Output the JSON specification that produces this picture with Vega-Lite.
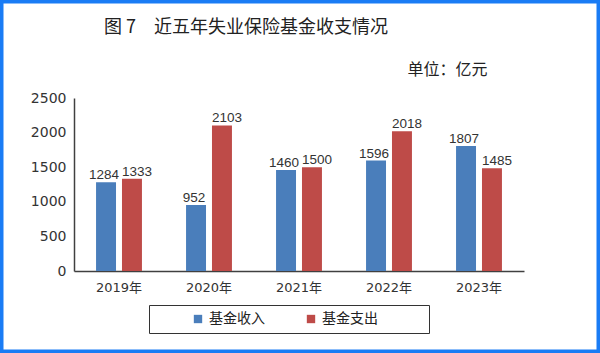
{
  "$schema": "https://vega.github.io/schema/vega-lite/v6.json",
  "width": 600,
  "height": 353,
  "autosize": "none",
  "padding": 0,
  "background": "white",
  "config": {
    "view": {"stroke": "#1a7cf5", "strokeWidth": 7},
    "font": "DejaVu Sans"
  },
  "title": {
    "text": "图 7　近五年失业保险基金收支情况",
    "orient": "top",
    "anchor": "middle",
    "offset": -37,
    "dx": -54,
    "fontSize": 18,
    "font": "Noto Sans CJK SC",
    "fontWeight": "normal",
    "color": "#222222"
  },
  "data": {
    "values": [
      {"year": "2019年", "type": "基金收入", "value": 1284},
      {"year": "2019年", "type": "基金支出", "value": 1333},
      {"year": "2020年", "type": "基金收入", "value": 952},
      {"year": "2020年", "type": "基金支出", "value": 2103},
      {"year": "2021年", "type": "基金收入", "value": 1460},
      {"year": "2021年", "type": "基金支出", "value": 1500},
      {"year": "2022年", "type": "基金收入", "value": 1596},
      {"year": "2022年", "type": "基金支出", "value": 2018},
      {"year": "2023年", "type": "基金收入", "value": 1807},
      {"year": "2023年", "type": "基金支出", "value": 1485}
    ]
  },
  "encoding": {
    "x": {
      "field": "year",
      "type": "nominal",
      "sort": null,
      "scale": {"range": [74, 524], "paddingInner": 0.49, "paddingOuter": 0.245},
      "axis": {
        "orient": "bottom",
        "offset": -82,
        "title": null,
        "labelAngle": 0,
        "ticks": false,
        "tickSize": 0,
        "labelPadding": 10,
        "labelFont": "DejaVu Sans, Noto Sans CJK SC",
        "labelFontSize": 13,
        "labelColor": "#333333",
        "domainColor": "#404040",
        "domainWidth": 1.5,
        "grid": false
      }
    },
    "xOffset": {
      "field": "type",
      "type": "nominal",
      "sort": ["基金收入", "基金支出"],
      "scale": {"paddingInner": 0.23}
    },
    "y": {
      "field": "value",
      "type": "quantitative",
      "scale": {"domain": [0, 2500], "range": [271, 98], "nice": false},
      "axis": {
        "orient": "left",
        "offset": -74,
        "values": [0, 500, 1000, 1500, 2000, 2500],
        "format": "d",
        "ticks": false,
        "tickSize": 0,
        "labelPadding": 8,
        "labelFontSize": 14,
        "labelColor": "#333333",
        "domainColor": "#404040",
        "domainWidth": 1.5,
        "grid": false,
        "title": "单位：亿元",
        "titleAngle": 0,
        "titleX": 373,
        "titleY": 74,
        "titleAlign": "center",
        "titleBaseline": "alphabetic",
        "titleFont": "Noto Sans CJK SC",
        "titleFontSize": 16,
        "titleFontWeight": "normal",
        "titleColor": "#222222"
      }
    }
  },
  "layer": [
    {
      "mark": {"type": "bar"},
      "encoding": {
        "color": {
          "field": "type",
          "type": "nominal",
          "scale": {"domain": ["基金收入", "基金支出"], "range": ["#4a7ebb", "#be4b48"]},
          "legend": {
            "orient": "none",
            "legendX": 149,
            "legendY": 305,
            "direction": "horizontal",
            "title": "\u2800\u2800\u2800\u2800",
            "titleOrient": "right",
            "titleFont": "DejaVu Sans",
            "titleFontSize": 14,
            "titlePadding": 0,
            "strokeColor": "#333333",
            "padding": 7,
            "symbolType": "square",
            "symbolSize": 70,
            "symbolStrokeWidth": 0,
            "labelFont": "Noto Sans CJK SC",
            "labelFontSize": 14,
            "labelColor": "#222222",
            "columnPadding": 4,
            "symbolOffset": 35
          }
        }
      }
    },
    {
      "transform": [{"filter": "datum.type == '基金收入'"}],
      "mark": {"type": "text", "baseline": "alphabetic", "dy": -3, "dx": -2, "fontSize": 13.5, "color": "#333333", "font": "Liberation Sans"},
      "encoding": {
        "text": {"field": "value", "type": "quantitative", "format": "d"}
      }
    },
    {
      "transform": [{"filter": "datum.type == '基金支出'"}],
      "mark": {"type": "text", "baseline": "alphabetic", "dy": -3, "dx": 5, "fontSize": 13.5, "color": "#333333", "font": "Liberation Sans"},
      "encoding": {
        "text": {"field": "value", "type": "quantitative", "format": "d"}
      }
    }
  ]
}
